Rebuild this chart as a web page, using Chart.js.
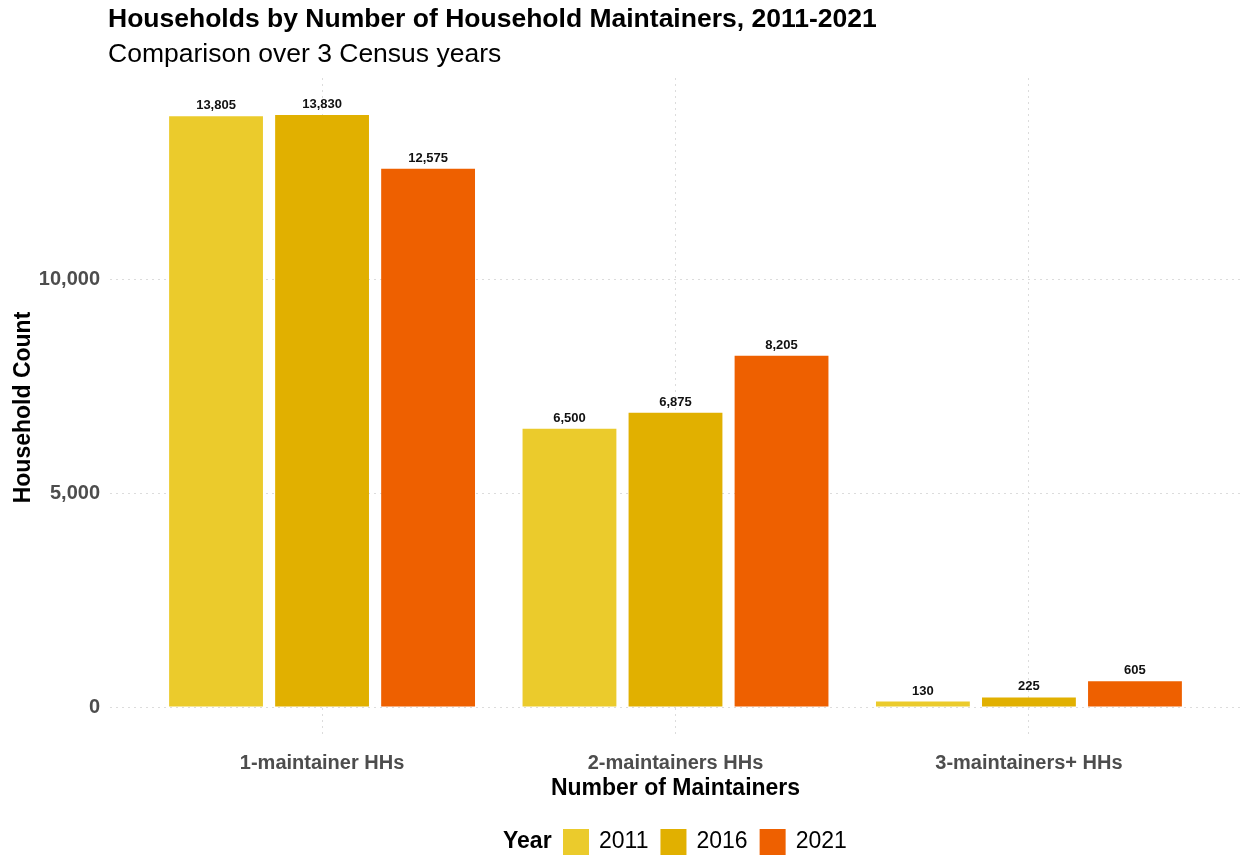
<!DOCTYPE html>
<html>
<head>
<meta charset="utf-8">
<title>Households by Number of Household Maintainers</title>
<script src="https://cdn.jsdelivr.net/npm/chart.js@4.4.1/dist/chart.umd.min.js"></script>
<style>
  html, body { margin: 0; padding: 0; background: #fff; }
  #wrap { width: 1241px; height: 856px; position: relative; }
</style>
</head>
<body>
<div id="wrap"><canvas id="chart1"></canvas></div>
<script>
var categories = ["1-maintainer HHs", "2-maintainers HHs", "3-maintainers+ HHs"];
var years = ["2011", "2016", "2021"];
var counts2011 = [13805, 6500, 130];
var counts2016 = [13830, 6875, 225];
var counts2021 = [12575, 8205, 605];
var yTicks = [0, 5000, 10000];
var colors = ["#EBCB2C", "#E1B000", "#EE6000"];

var FONT = "'Liberation Sans', Arial, sans-serif";

function toPoints(arr) {
  return arr.map(function(v, i) { return { x: i + 1, y: v }; });
}

var series = [counts2011, counts2016, counts2021];
var datasets = series.map(function(arr, i) {
  return {
    label: years[i],
    data: toPoints(arr),
    backgroundColor: colors[i],
    borderWidth: 0,
    categoryPercentage: 0.9,
    barPercentage: 0.885
  };
});

// titles at top-left of the panel
var titlePlugin = {
  id: "titles",
  afterDraw: function(chart) {
    var ctx = chart.ctx, left = chart.chartArea.left - 2;
    ctx.save();
    ctx.fillStyle = "#000";
    ctx.textAlign = "left";
    ctx.textBaseline = "middle";
    ctx.font = "bold 26.5px " + FONT;
    ctx.fillText("Households by Number of Household Maintainers, 2011-2021", left, 20);
    ctx.font = "26.5px " + FONT;
    ctx.fillText("Comparison over 3 Census years", left, 55);
    ctx.restore();
  }
};

// value labels above each bar
var valuePlugin = {
  id: "values",
  afterDatasetsDraw: function(chart) {
    var ctx = chart.ctx;
    ctx.save();
    ctx.fillStyle = "#111";
    ctx.font = "bold 13px " + FONT;
    ctx.textAlign = "center";
    ctx.textBaseline = "bottom";
    chart.data.datasets.forEach(function(ds, di) {
      chart.getDatasetMeta(di).data.forEach(function(bar, i) {
        ctx.fillText(ds.data[i].y.toLocaleString("en-US"), bar.x, bar.y - 4);
      });
    });
    ctx.restore();
  }
};

// bottom legend: "Year" then swatches
var legendPlugin = {
  id: "yearLegend",
  afterDraw: function(chart) {
    var ctx = chart.ctx, y = 842, x = 503;
    ctx.save();
    ctx.textBaseline = "middle";
    ctx.textAlign = "left";
    ctx.fillStyle = "#000";
    ctx.font = "bold 23px " + FONT;
    ctx.fillText("Year", x, y);
    x = 563;
    ctx.font = "23px " + FONT;
    chart.data.datasets.forEach(function(ds) {
      ctx.fillStyle = ds.backgroundColor;
      ctx.fillRect(x, y - 13, 26, 26);
      ctx.fillStyle = "#000";
      ctx.fillText(ds.label, x + 36, y);
      x += 36 + ctx.measureText(ds.label).width + 12;
    });
    ctx.restore();
  }
};

new Chart(document.getElementById("chart1"), {
  type: "bar",
  data: { datasets: datasets },
  options: {
    responsive: true,
    maintainAspectRatio: false,
    animation: false,
    layout: { padding: { top: 78, bottom: 54, left: 0, right: 0 } },
    plugins: {
      legend: { display: false },
      tooltip: { enabled: false }
    },
    scales: {
      x: {
        type: "linear",
        min: 0.4,
        max: 3.6,
        offset: false,
        afterBuildTicks: function(scale) {
          scale.ticks = categories.map(function(c, i) { return { value: i + 1 }; });
        },
        afterFit: function(scale) { scale.height = 65; },
        ticks: {
          callback: function(v) { return categories[v - 1]; },
          color: "#4D4D4D",
          font: { family: FONT, size: 20, weight: "bold" },
          padding: 14,
          maxRotation: 0
        },
        grid: {
          offset: false,
          color: "#dcdcdc",
          lineWidth: 1,
          drawTicks: false
        },
        border: { display: false, dash: [2, 4] },
        title: {
          display: true,
          text: "Number of Maintainers",
          color: "#000",
          font: { family: FONT, size: 23, weight: "bold" },
          padding: { top: 0, bottom: 0 }
        }
      },
      y: {
        min: -700,
        max: 14697,
        afterBuildTicks: function(scale) {
          scale.ticks = yTicks.map(function(v) { return { value: v }; });
        },
        afterFit: function(scale) { scale.width = 110; },
        ticks: {
          callback: function(v) { return v.toLocaleString("en-US"); },
          color: "#4D4D4D",
          font: { family: FONT, size: 20, weight: "bold" },
          padding: 10
        },
        grid: {
          color: "#dcdcdc",
          lineWidth: 1,
          drawTicks: false
        },
        border: { display: false, dash: [2, 4] },
        title: {
          display: true,
          text: "Household Count",
          color: "#000",
          font: { family: FONT, size: 23, weight: "bold" },
          padding: { top: 10, bottom: 0 }
        }
      }
    }
  },
  plugins: [titlePlugin, valuePlugin, legendPlugin]
});
</script>
</body>
</html>
